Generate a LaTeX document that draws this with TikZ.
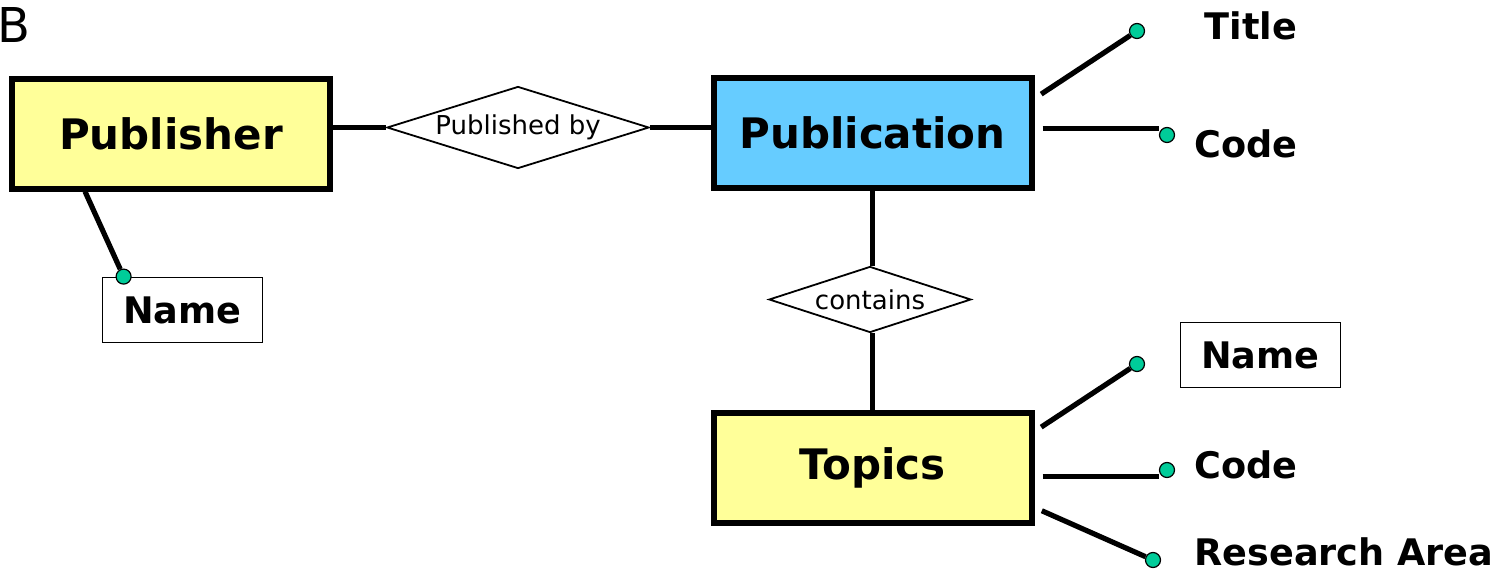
\documentclass[tikz,border=0pt]{standalone}
\usepackage{fontspec}
\setmainfont{DejaVu Sans}
\usetikzlibrary{shapes.geometric}
\definecolor{entyellow}{HTML}{FFFF99}
\definecolor{entblue}{HTML}{66CCFF}
\definecolor{dotgreen}{HTML}{00CC99}
\begin{document}
\begin{tikzpicture}[x=0.5pt,y=-0.5pt,
        entity/.style={draw,line width=3pt,minimum width=159pt,minimum height=55pt,
            font=\bfseries\fontsize{21}{25}\selectfont},
        rel/.style={diamond,draw,line width=0.9pt,fill=white,aspect=3,inner sep=0pt,
            font=\fontsize{13}{16}\selectfont},
        attr/.style={font=\bfseries\fontsize{18.3}{22}\selectfont},
        attrbox/.style={attr,draw,line width=0.9pt,minimum width=80pt,minimum height=32.5pt},
        dot/.style={circle,draw,line width=0.6pt,fill=dotgreen,minimum size=7.5pt,inner sep=0pt},
        link/.style={line width=2.6pt},
        attrlink/.style={link,shorten <=4pt}]
        \useasboundingbox (0,0) rectangle (1501,573);
        %% panel letter
        \node[anchor=west,inner sep=0pt,font=\fontsize{24}{28}\selectfont] (letter) at (-3,25) {B};
        %% entities
        \node[entity,fill=entyellow] (pubr) at (171,133.5) {Publisher};
        \node[entity,fill=entblue] (pub) at (872.5,132.5) {Publication};
        \node[entity,fill=entyellow] (top) at (872.5,467.5) {Topics};
        %% relationships
        \node[rel,minimum width=131pt,minimum height=41pt] (pubby) at (518,127.5) {Published by};
        \node[rel,minimum width=101pt,minimum height=33pt] (cont) at (870,299.5) {contains};
        \draw[link] (pubr.east |- pubby.west) -- (pubby.west);
        \draw[link] (pubby.east) -- (pub.west |- pubby.east);
        \draw[link] (pub.south) -- (pub.south |- cont.north);
        \draw[link] (pub.south |- cont.south) -- (top.north);
        %% attributes of Publisher
        \node[attrbox] (pubrname) at (182.5,310) {Name};
        \node[dot] (pubrnamedot) at ([xshift=11pt]pubrname.north west) {};
        \draw[link] ([xshift=38pt]pubr.south west) -- (pubrnamedot);
        %% attributes of Publication
        \node[attr] (title) at (1251,26) {Title};
        \node[attr] (pubcode) at (1246,144) {Code};
        \node[dot] (titledot) at (1137,31) {};
        \node[dot] (pubcodedot) at (1167,135) {};
        \coordinate (pubcodestart) at ([yshift=2pt]pub.east);
        \draw[attrlink] ([yshift=17pt]pub.east) -- (titledot);
        \draw[attrlink] (pubcodestart) -- (pubcodestart -| pubcodedot.west);
        %% attributes of Topics
        \node[attrbox] (topname) at (1260.5,355) {Name};
        \node[attr] (topcode) at (1246,465) {Code};
        \node[attr,inner sep=1pt] (toparea) at (1344,552) {Research Area};
        \node[dot] (topnamedot) at (1137,364) {};
        \node[dot] (topcodedot) at (1167,470) {};
        \node[dot] (topareadot) at (1153,560) {};
        \coordinate (topcodestart) at ([yshift=-4.5pt]top.east);
        \draw[attrlink] ([yshift=18pt]top.east) -- (topnamedot);
        \draw[attrlink] (topcodestart) -- (topcodestart -| topcodedot.west);
        \draw[attrlink] ([yshift=-20pt]top.east) -- (topareadot);
\end{tikzpicture}
\end{document}
